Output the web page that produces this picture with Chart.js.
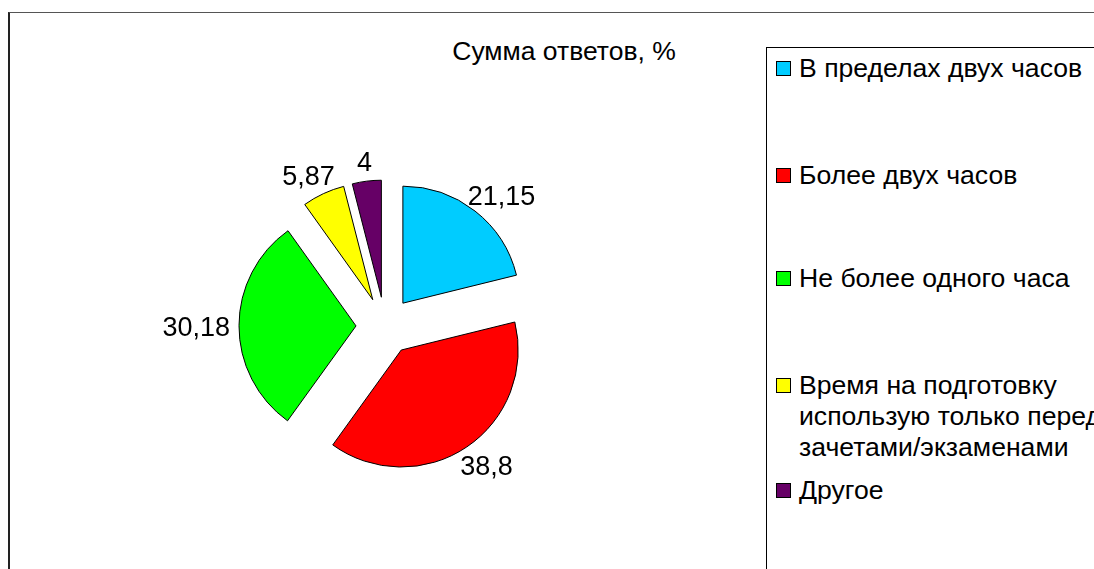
<!DOCTYPE html>
<html><head><meta charset="utf-8">
<script src="https://cdn.jsdelivr.net/npm/chart.js@4.4.1/dist/chart.umd.min.js"></script>
<style>
html,body{margin:0;padding:0;background:#fff;}
#wrap{position:relative;width:1094px;height:569px;overflow:hidden;font-family:"Liberation Sans",Arial,sans-serif;color:#000;}
#frame{position:absolute;left:8px;top:12px;width:1200px;height:700px;border-left:2px solid #222;border-top:1px solid #555;}
#title{position:absolute;left:564px;top:38px;transform:translateX(-50%);font-size:26.5px;line-height:26.5px;white-space:nowrap;}
#legend{position:absolute;left:766px;top:47px;width:500px;height:600px;border:1px solid #000;}
.item{position:absolute;left:9px;}
.sw{position:absolute;left:0;width:13px;height:13px;border:1px solid #000;}
.lt{position:absolute;left:23px;top:0;width:330px;font-size:26.6px;line-height:31px;}
canvas{position:absolute;left:155px;top:96px;}
</style></head><body>
<div id="wrap">
<div id="frame"></div>
<div id="title"></div>
<div id="legend"></div>
<canvas id="c" width="460" height="460"></canvas>
</div>
<script>
// ---- data ----
const TITLE = 'Сумма ответов, %';
const categories = [
  'В пределах двух часов',
  'Более двух часов',
  'Не более одного часа',
  'Время на подготовку использую только перед зачетами/экзаменами',
  'Другое'
];
const values = [21.15, 38.8, 30.18, 5.87, 4];
const colors = ['#00CCFF', '#FF0000', '#00FF00', '#FFFF00', '#660066'];

// ---- style ----
const RADIUS = 117;
const EXPLODE = 29;
const LABEL_GAP = 9;
const LABEL_FONT = '27px "Liberation Sans", Arial, sans-serif';
const LABEL_H = 24;
const LEGEND_TOPS = [5, 112, 215, 322, 427];

const fmt = v => String(v).replace('.', ',');

document.getElementById('title').textContent = TITLE;
const lg = document.getElementById('legend');
categories.forEach((c, i) => {
  const it = document.createElement('div');
  it.className = 'item';
  it.style.top = LEGEND_TOPS[i] + 'px';
  const sw = document.createElement('div');
  sw.className = 'sw';
  sw.style.top = '8px';
  sw.style.background = colors[i];
  const t = document.createElement('div');
  t.className = 'lt';
  t.textContent = c;
  it.appendChild(sw); it.appendChild(t);
  lg.appendChild(it);
});

const explodePlugin = {
  id: 'explode',
  beforeDatasetDraw(chart, args) {
    const ctx = chart.ctx;
    args.meta.data.forEach(arc => {
      const p = arc.getProps(['startAngle', 'endAngle'], true);
      const mid = (p.startAngle + p.endAngle) / 2;
      ctx.save();
      ctx.translate(Math.cos(mid) * EXPLODE, Math.sin(mid) * EXPLODE);
      arc.draw(ctx);
      ctx.restore();
    });
    return false;
  },
  afterDatasetsDraw(chart) {
    const ctx = chart.ctx;
    const meta = chart.getDatasetMeta(0);
    ctx.save();
    ctx.font = LABEL_FONT;
    ctx.fillStyle = '#000';
    ctx.textAlign = 'center';
    ctx.textBaseline = 'middle';
    meta.data.forEach((arc, i) => {
      const p = arc.getProps(['x', 'y', 'startAngle', 'endAngle', 'outerRadius'], true);
      const mid = (p.startAngle + p.endAngle) / 2;
      const dx = Math.cos(mid), dy = Math.sin(mid);
      const txt = fmt(values[i]);
      const w = ctx.measureText(txt).width;
      const d = EXPLODE + p.outerRadius + LABEL_GAP;
      const cx = p.x + dx * d + dx * w / 2;
      const cy = p.y + dy * d + dy * LABEL_H / 2;
      ctx.fillText(txt, cx, cy + 3);
    });
    ctx.restore();
  }
};

new Chart(document.getElementById('c'), {
  type: 'pie',
  data: {
    labels: categories,
    datasets: [{
      data: values,
      backgroundColor: colors,
      borderColor: '#000',
      borderWidth: 1,
      borderAlign: 'center',
      borderJoinStyle: 'miter',
      radius: RADIUS,
      offset: 0,
      hoverOffset: 0
    }]
  },
  options: {
    responsive: false,
    animation: false,
    devicePixelRatio: 1,
    events: [],
    layout: { padding: 0 },
    plugins: { legend: { display: false }, tooltip: { enabled: false }, title: { display: false } }
  },
  plugins: [explodePlugin]
});
</script>
</body></html>
